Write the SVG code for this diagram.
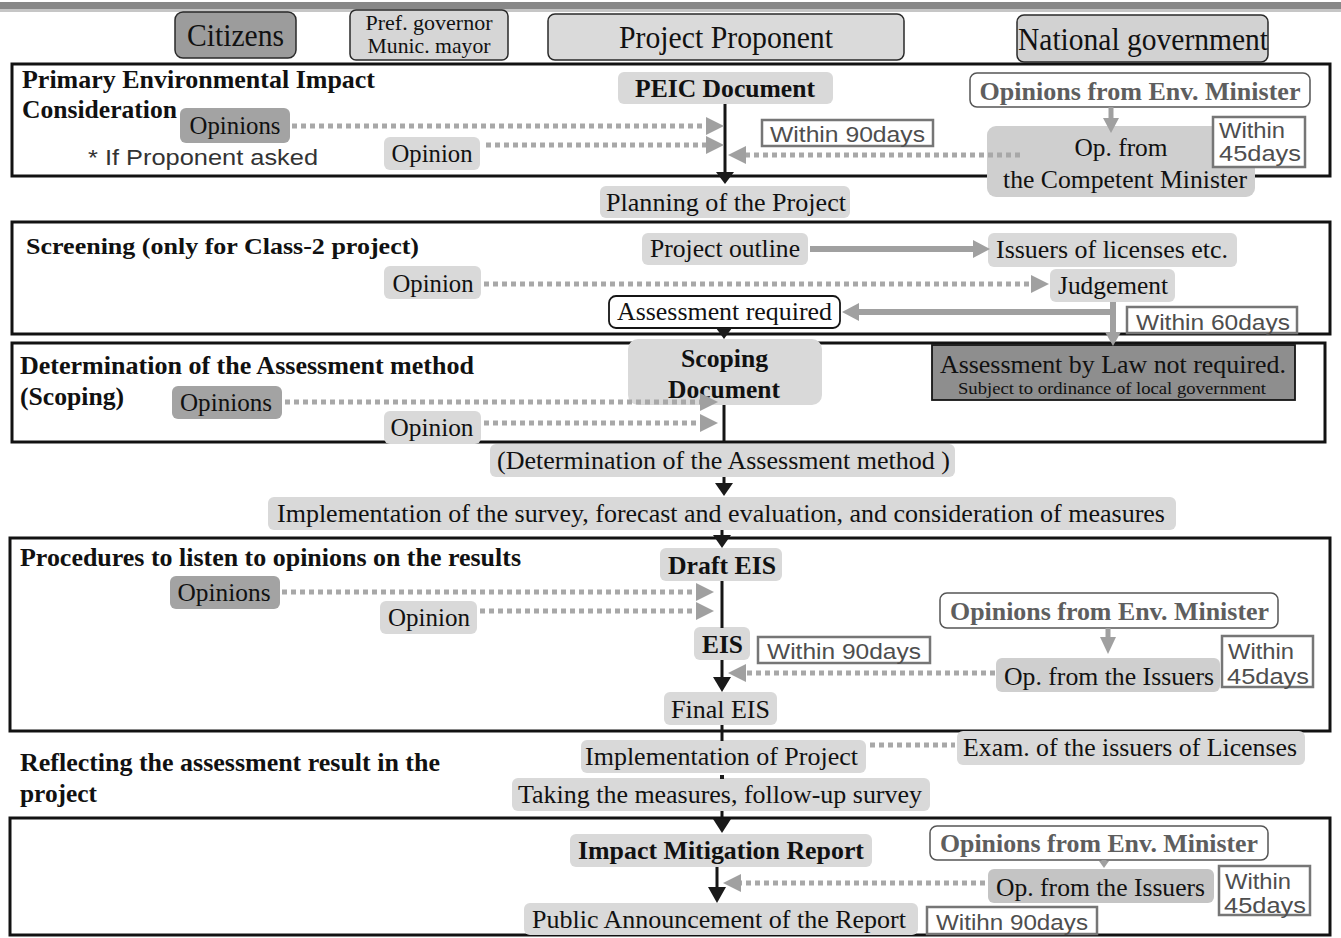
<svg xmlns="http://www.w3.org/2000/svg" width="1341" height="938" viewBox="0 0 1341 938">
<defs>
<style>
text{font-family:"Liberation Serif","Times New Roman",serif;fill:#111;font-size:26px}
.c{text-anchor:middle}
.b{font-weight:bold}
.s{font-family:"Liberation Sans",Arial,sans-serif;fill:#4e4e4e;font-size:22px}
.box{fill:#d9d9d9}
.mid{fill:#cfcfcf}
.dk{fill:#a3a3a3}
.hd{stroke:#2a2a2a;stroke-width:1.5}
.wn{fill:#fff;stroke:#767676;stroke-width:2.5}
.env{fill:#fff;stroke:#555;stroke-width:1.5}
.envt{fill:#5e5e5e;font-weight:bold}
.sec{fill:none;stroke:#121212;stroke-width:3}
.dot{fill:none;stroke:#a8a8a8;stroke-width:5;stroke-dasharray:5 4}
.ga{fill:#a0a0a0}
.gl{stroke:#a0a0a0;stroke-width:6;fill:none}
.gs{stroke:#a0a0a0;stroke-width:5;fill:none}
.bl{stroke:#151515;stroke-width:3;fill:none}
.ba{fill:#1a1a1a}
.hdt{font-size:31px}
.sm{font-size:22px}
.ttl{font-size:26px;font-weight:bold}
</style>
</defs>
<rect width="1341" height="938" fill="#fff"/>

<!-- header rule -->
<g id="top-rule">
<rect x="0" y="2" width="1341" height="7" fill="#888"/>
<rect x="0" y="9" width="1341" height="3" fill="#c6c6c6"/>
</g>

<!-- stage frames -->
<g id="stages">
<rect class="sec" x="12" y="64" width="1318" height="112"/>
<rect class="sec" x="12" y="222" width="1318" height="112"/>
<rect class="sec" x="12" y="343" width="1313" height="99"/>
<rect class="sec" x="10" y="538" width="1320" height="193"/>
<rect class="sec" x="10" y="818" width="1320" height="117"/>
</g>

<!-- column heads -->
<g id="head-citizens">
<rect x="175" y="12" width="121" height="46" rx="8" fill="#9c9c9c" class="hd"/>
<text class="c hdt" x="235.5" y="46" textLength="97" lengthAdjust="spacingAndGlyphs">Citizens</text>
</g>
<g id="head-local">
<rect x="350" y="10" width="158" height="50" rx="6" fill="#d6d6d6" class="hd"/>
<text class="c sm" x="429" y="30" textLength="127" lengthAdjust="spacingAndGlyphs">Pref. governor</text>
<text class="c sm" x="429" y="53" textLength="123" lengthAdjust="spacingAndGlyphs">Munic. mayor</text>
</g>
<g id="head-proponent">
<rect x="548" y="14" width="356" height="46" rx="7" fill="#dadada" class="hd"/>
<text class="c hdt" x="726" y="48" textLength="214" lengthAdjust="spacingAndGlyphs">Project Proponent</text>
</g>
<g id="head-national">
<rect x="1017" y="15" width="251" height="47" rx="7" fill="#d2d2d2" class="hd"/>
<text class="c hdt" x="1143" y="50" textLength="250" lengthAdjust="spacingAndGlyphs">National government</text>
</g>

<!-- stage 1: primary environmental impact consideration -->
<g id="title-peic">
<text class="ttl" x="22" y="88" textLength="353" lengthAdjust="spacingAndGlyphs">Primary Environmental Impact</text>
<text class="ttl" x="22" y="118" textLength="155" lengthAdjust="spacingAndGlyphs">Consideration</text>
</g>
<g id="peic-citizens">
<rect class="dk" x="180" y="108" width="110" height="35" rx="6"/>
<text class="c" x="235" y="134" textLength="91" lengthAdjust="spacingAndGlyphs">Opinions</text>
</g>
<g id="peic-note">
<text class="s" x="88" y="165" style="fill:#333" textLength="230" lengthAdjust="spacingAndGlyphs">* If Proponent asked</text>
</g>
<g id="peic-local">
<rect class="box" x="384" y="137" width="96" height="33" rx="6"/>
<text class="c" x="432" y="162" textLength="81" lengthAdjust="spacingAndGlyphs">Opinion</text>
</g>
<g id="peic-doc">
<rect class="box" x="618" y="72" width="215" height="32" rx="6"/>
<text class="c b" x="725" y="97" textLength="180" lengthAdjust="spacingAndGlyphs">PEIC Document</text>
</g>
<g id="peic-within90">
<rect class="wn" x="762" y="120" width="171" height="26"/>
<text class="s" x="770" y="142" textLength="155" lengthAdjust="spacingAndGlyphs">Within 90days</text>
</g>
<g id="peic-envmin">
<rect class="env" x="970" y="73" width="340" height="34" rx="7"/>
<text class="c envt" x="1140" y="100" textLength="321" lengthAdjust="spacingAndGlyphs">Opinions from Env. Minister</text>
</g>
<g id="peic-competent">
<rect class="mid" x="987" y="126" width="268" height="71" rx="9"/>
<text class="c" x="1121" y="156" textLength="93" lengthAdjust="spacingAndGlyphs">Op. from</text>
<text class="c" x="1125" y="188" textLength="244" lengthAdjust="spacingAndGlyphs">the Competent Minister</text>
</g>
<g id="peic-within45">
<rect class="wn" x="1213" y="117" width="92" height="50"/>
<text class="s" x="1219" y="138" textLength="66" lengthAdjust="spacingAndGlyphs">Within</text>
<text class="s" x="1219" y="161" textLength="82" lengthAdjust="spacingAndGlyphs">45days</text>
</g>
<g id="planning">
<rect class="box" x="600" y="186" width="250" height="32" rx="6"/>
<text class="c" x="726" y="211" textLength="240" lengthAdjust="spacingAndGlyphs">Planning of the Project</text>
</g>

<!-- stage 2: screening -->
<g id="title-screening">
<text class="ttl" x="26" y="254" style="font-size:24px" textLength="393" lengthAdjust="spacingAndGlyphs">Screening (only for Class-2 project)</text>
</g>
<g id="outline">
<rect class="box" x="642" y="233" width="166" height="32" rx="6"/>
<text class="c" x="725" y="257" textLength="150" lengthAdjust="spacingAndGlyphs">Project outline</text>
</g>
<g id="issuers">
<rect class="box" x="988" y="233" width="249" height="34" rx="6"/>
<text class="c" x="1112" y="258" textLength="232" lengthAdjust="spacingAndGlyphs">Issuers of licenses etc.</text>
</g>
<g id="screen-local">
<rect class="box" x="384" y="266" width="97" height="33" rx="6"/>
<text class="c" x="433" y="292" textLength="81" lengthAdjust="spacingAndGlyphs">Opinion</text>
</g>
<g id="judgement">
<rect class="box" x="1050" y="269" width="125" height="33" rx="6"/>
<text class="c" x="1113" y="294" textLength="110" lengthAdjust="spacingAndGlyphs">Judgement</text>
</g>
<g id="required">
<rect x="609" y="296" width="231" height="32" rx="7" fill="#fff" stroke="#151515" stroke-width="1.8"/>
<text class="c" x="724.5" y="320" textLength="215" lengthAdjust="spacingAndGlyphs">Assessment required</text>
</g>
<g id="screen-within60">
<rect class="wn" x="1127" y="307" width="170" height="26"/>
<text class="s" x="1136" y="330" textLength="154" lengthAdjust="spacingAndGlyphs">Within 60days</text>
</g>

<!-- stage 3: scoping -->
<g id="title-scoping">
<text class="ttl" x="20" y="374" textLength="454" lengthAdjust="spacingAndGlyphs">Determination of the Assessment method</text>
<text class="ttl" x="20" y="405" textLength="104" lengthAdjust="spacingAndGlyphs">(Scoping)</text>
</g>
<g id="scoping-doc">
<rect class="box" x="628" y="339" width="194" height="66" rx="10"/>
<text class="c b" x="724.5" y="367" textLength="87" lengthAdjust="spacingAndGlyphs">Scoping</text>
<text class="c b" x="724" y="398" textLength="112" lengthAdjust="spacingAndGlyphs">Document</text>
</g>
<g id="scoping-citizens">
<rect class="dk" x="172" y="386" width="110" height="33" rx="6"/>
<text class="c" x="226" y="411" textLength="92" lengthAdjust="spacingAndGlyphs">Opinions</text>
</g>
<g id="scoping-local">
<rect class="box" x="384" y="411" width="97" height="33" rx="6"/>
<text class="c" x="432" y="436" textLength="83" lengthAdjust="spacingAndGlyphs">Opinion</text>
</g>
<g id="not-required">
<rect x="932" y="345" width="363" height="55" fill="#8e8e8e" stroke="#151515" stroke-width="1.8"/>
<text class="c" x="1113" y="373" textLength="346" lengthAdjust="spacingAndGlyphs">Assessment by Law not required.</text>
<text class="c" x="1112" y="394" style="font-size:17px" textLength="308" lengthAdjust="spacingAndGlyphs">Subject to ordinance of local government</text>
</g>
<g id="method">
<rect class="box" x="490" y="444" width="465" height="33" rx="6"/>
<text class="c" x="723.5" y="469" textLength="453" lengthAdjust="spacingAndGlyphs">(Determination of the Assessment method )</text>
</g>
<g id="survey">
<rect class="box" x="268" y="497" width="908" height="33" rx="6"/>
<text class="c" x="721" y="522" textLength="888" lengthAdjust="spacingAndGlyphs">Implementation of the survey, forecast and evaluation, and consideration of measures</text>
</g>

<!-- stage 4: opinions on the results -->
<g id="title-results">
<text class="ttl" x="20" y="566" style="font-size:25px" textLength="501" lengthAdjust="spacingAndGlyphs">Procedures to listen to opinions on the results</text>
</g>
<g id="draft-eis">
<rect class="box" x="660" y="548" width="122" height="33" rx="6"/>
<text class="c b" x="722" y="574" textLength="108" lengthAdjust="spacingAndGlyphs">Draft EIS</text>
</g>
<g id="results-citizens">
<rect class="dk" x="170" y="576" width="110" height="33" rx="6"/>
<text class="c" x="224" y="601" textLength="93" lengthAdjust="spacingAndGlyphs">Opinions</text>
</g>
<g id="results-local">
<rect class="box" x="380" y="601" width="97" height="33" rx="6"/>
<text class="c" x="429" y="626" textLength="82" lengthAdjust="spacingAndGlyphs">Opinion</text>
</g>
<g id="eis">
<rect class="box" x="694" y="627" width="56" height="33" rx="6"/>
<text class="c b" x="722.5" y="653" textLength="41" lengthAdjust="spacingAndGlyphs">EIS</text>
</g>
<g id="eis-within90">
<rect class="wn" x="758" y="637" width="172" height="26"/>
<text class="s" x="767" y="659" textLength="154" lengthAdjust="spacingAndGlyphs">Within 90days</text>
</g>
<g id="eis-envmin">
<rect class="env" x="940" y="593" width="338" height="35" rx="7"/>
<text class="c envt" x="1109.5" y="620" textLength="319" lengthAdjust="spacingAndGlyphs">Opinions from Env. Minister</text>
</g>
<g id="eis-issuers">
<rect class="mid" x="996" y="658" width="224" height="34" rx="6"/>
<text class="c" x="1109" y="685" textLength="210" lengthAdjust="spacingAndGlyphs">Op. from the Issuers</text>
</g>
<g id="eis-within45">
<rect class="wn" x="1222" y="636" width="91" height="51"/>
<text class="s" x="1228" y="659" textLength="66" lengthAdjust="spacingAndGlyphs">Within</text>
<text class="s" x="1227" y="684" textLength="82" lengthAdjust="spacingAndGlyphs">45days</text>
</g>
<g id="final-eis">
<rect class="box" x="664" y="692" width="113" height="33" rx="6"/>
<text class="c" x="720.5" y="718" textLength="99" lengthAdjust="spacingAndGlyphs">Final EIS</text>
</g>

<!-- reflecting the result in the project -->
<g id="title-reflect">
<text class="ttl" x="20" y="771" style="font-size:25px" textLength="420" lengthAdjust="spacingAndGlyphs">Reflecting the assessment result in the</text>
<text class="ttl" x="20" y="802" style="font-size:25px" textLength="77" lengthAdjust="spacingAndGlyphs">project</text>
</g>
<g id="implementation">
<rect class="box" x="581" y="740" width="285" height="33" rx="6"/>
<text class="c" x="721.5" y="765" textLength="273" lengthAdjust="spacingAndGlyphs">Implementation of Project</text>
</g>
<g id="exam">
<rect class="box" x="957" y="731" width="348" height="34" rx="6"/>
<text class="c" x="1130" y="756" textLength="334" lengthAdjust="spacingAndGlyphs">Exam. of the issuers of Licenses</text>
</g>
<g id="measures">
<rect class="box" x="512" y="778" width="418" height="33" rx="6"/>
<text class="c" x="720" y="803" textLength="404" lengthAdjust="spacingAndGlyphs">Taking the measures, follow-up survey</text>
</g>

<!-- stage 5: impact mitigation report -->
<g id="mitigation">
<rect class="box" x="570" y="834" width="302" height="33" rx="6"/>
<text class="c b" x="721" y="859" textLength="286" lengthAdjust="spacingAndGlyphs">Impact Mitigation Report</text>
</g>
<g id="report-envmin">
<rect class="env" x="930" y="826" width="338" height="34" rx="7"/>
<text class="c envt" x="1099" y="852" textLength="318" lengthAdjust="spacingAndGlyphs">Opinions from Env. Minister</text>
</g>
<g id="report-issuers">
<rect x="988" y="869" width="226" height="34" rx="6" fill="#c4c4c4"/>
<text class="c" x="1100.5" y="896" textLength="209" lengthAdjust="spacingAndGlyphs">Op. from the Issuers</text>
</g>
<g id="report-within45">
<rect class="wn" x="1219" y="866" width="91" height="49"/>
<text class="s" x="1225" y="889" textLength="66" lengthAdjust="spacingAndGlyphs">Within</text>
<text class="s" x="1224" y="913" textLength="82" lengthAdjust="spacingAndGlyphs">45days</text>
</g>
<g id="announcement">
<rect class="box" x="524" y="903" width="394" height="32" rx="6"/>
<text class="c" x="719" y="928" textLength="374" lengthAdjust="spacingAndGlyphs">Public Announcement of the Report</text>
</g>
<g id="report-within90">
<rect class="wn" x="927" y="907" width="170" height="27"/>
<text class="s" x="936" y="930" textLength="152" lengthAdjust="spacingAndGlyphs">Witihn 90days</text>
</g>

<!-- connectors -->
<g id="connectors">
<!-- main flow -->
<line class="bl" x1="725" y1="104" x2="725" y2="173"/>
<polygon class="ba" points="716,172 734,172 725,184"/>
<polygon class="ba" points="716,328 732,328 724,339"/>
<line class="bl" x1="724" y1="405" x2="724" y2="442"/>
<line class="bl" x1="724" y1="477" x2="724" y2="484"/>
<polygon class="ba" points="715,483 733,483 724,496"/>
<line class="bl" x1="722" y1="530" x2="722" y2="536"/>
<polygon class="ba" points="713,535 731,535 722,548"/>
<line class="bl" x1="722" y1="581" x2="722" y2="628"/>
<line class="bl" x1="722" y1="660" x2="722" y2="678"/>
<polygon class="ba" points="713,677 731,677 722,692"/>
<line class="bl" x1="722" y1="725" x2="722" y2="741"/>
<rect class="ba" x="720" y="775" width="4" height="4"/>
<line class="bl" x1="722" y1="811" x2="722" y2="820"/>
<polygon class="ba" points="713,819 731,819 722,833"/>
<line class="bl" x1="717" y1="867" x2="717" y2="888"/>
<polygon class="ba" points="708,887 726,887 717,903"/>

<!-- minister to competent bodies -->
<line class="gs" x1="1111" y1="107" x2="1111" y2="119"/>
<polygon class="ga" points="1103,118 1119,118 1111,133"/>
<line class="gs" x1="1108" y1="628" x2="1108" y2="638"/>
<polygon class="ga" points="1100,637 1116,637 1108,654"/>
<line class="gs" x1="1104" y1="860" x2="1104" y2="862"/>
<polygon class="ga" points="1099,861 1109,861 1104,868"/>

<!-- screening flow -->
<line class="gl" x1="810" y1="249" x2="975" y2="249"/>
<polygon class="ga" points="973,240 973,258 990,249"/>
<line class="gl" x1="1113" y1="302" x2="1113" y2="334"/>
<polygon class="ga" points="1105,332 1121,332 1113,346"/>
<line class="gl" x1="1113" y1="312" x2="857" y2="312"/>
<polygon class="ga" points="859,303 859,321 842,312"/>

<!-- opinion submissions -->
<line class="dot" x1="292" y1="126" x2="707" y2="126"/>
<polygon class="ga" points="706,117 706,135 724,126"/>
<line class="dot" x1="486" y1="145" x2="707" y2="145"/>
<polygon class="ga" points="706,136 706,154 724,145"/>
<line class="dot" x1="1020" y1="155" x2="745" y2="155"/>
<polygon class="ga" points="746,146 746,164 728,155"/>
<line class="dot" x1="484" y1="284" x2="1032" y2="284"/>
<polygon class="ga" points="1031,275 1031,293 1049,284"/>
<line class="dot" x1="285" y1="402" x2="701" y2="402"/>
<polygon class="ga" points="700,393 700,411 718,402"/>
<line class="dot" x1="484" y1="423" x2="701" y2="423"/>
<polygon class="ga" points="700,414 700,432 718,423"/>
<line class="dot" x1="282" y1="592" x2="697" y2="592"/>
<polygon class="ga" points="696,583 696,601 714,592"/>
<line class="dot" x1="480" y1="611" x2="697" y2="611"/>
<polygon class="ga" points="696,602 696,620 714,611"/>
<line class="dot" x1="995" y1="673" x2="745" y2="673"/>
<polygon class="ga" points="746,664 746,682 728,673"/>
<line class="dot" x1="870" y1="745" x2="955" y2="745"/>
<line class="dot" x1="985" y1="883" x2="740" y2="883"/>
<polygon class="ga" points="741,874 741,892 723,883"/>
</g>
</svg>
